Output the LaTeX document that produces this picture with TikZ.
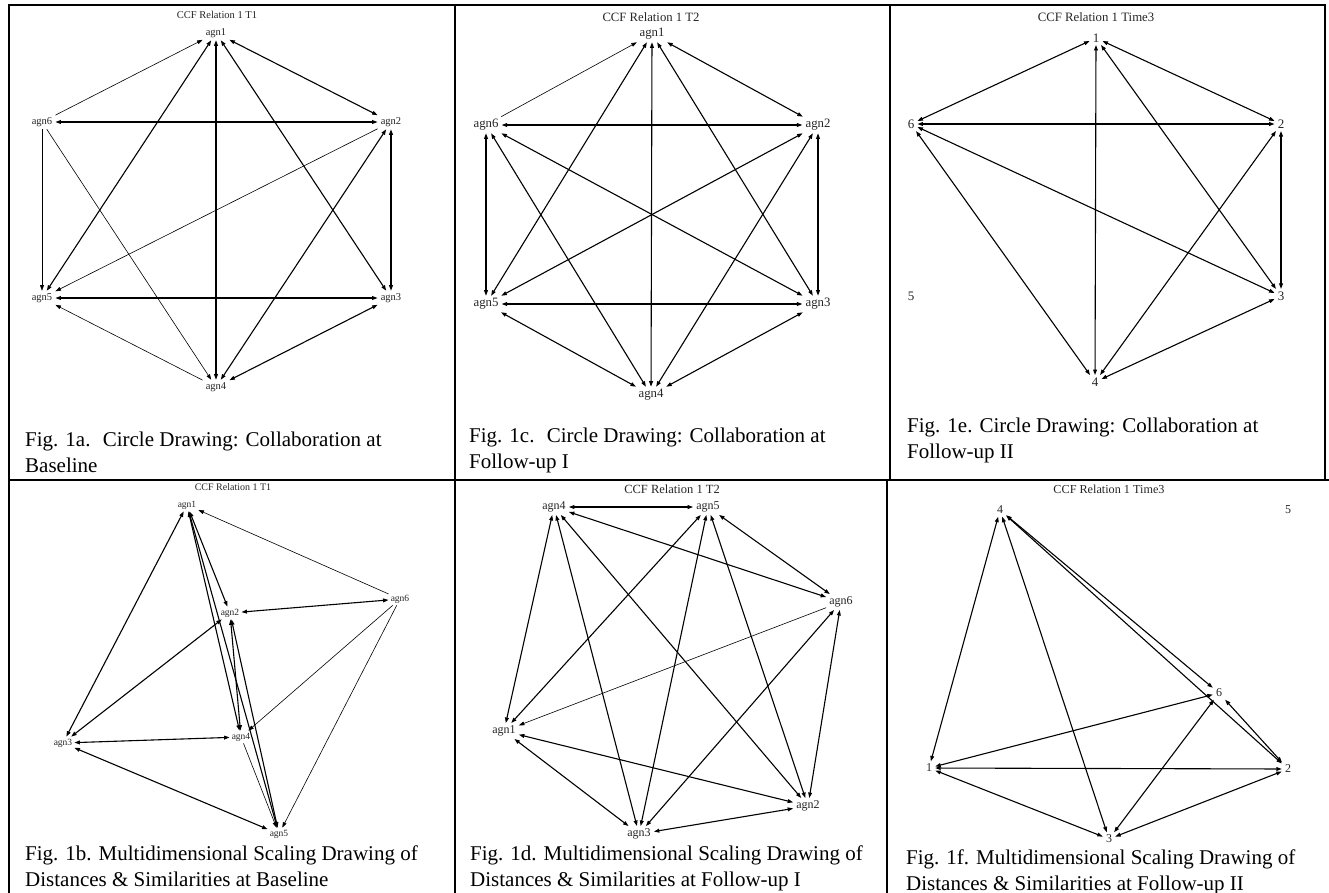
\documentclass[tikz,border=0pt]{standalone}
\usepackage{fontspec}
\setmainfont{Liberation Serif}
\usetikzlibrary{arrows.meta}
\begin{document}
\begin{tikzpicture}[x=1pt,y=-1pt,
  grid/.style={line width=2pt, line cap=rect},
  lb/.style={inner xsep=3pt, inner ysep=2.5pt, text=black!85},
  lbA/.style={lb, font=\fontsize{10.5}{12}\selectfont},
  lbB/.style={lb, inner xsep=2pt, inner ysep=2pt, font=\fontsize{9.5}{11}\selectfont},
  lbC/.style={lb, font=\fontsize{12.8}{14}\selectfont},
  lbD/.style={lb, font=\fontsize{12}{14}\selectfont},
  lbE/.style={lb, inner xsep=3pt, font=\fontsize{13}{15}\selectfont},
  lbF/.style={lb, inner xsep=3pt, font=\fontsize{12}{14}\selectfont},
  ttl/.style={inner sep=0pt, text=black!85},
  figcap/.style={anchor=base west, inner sep=0pt, align=left, font=\fontsize{21}{26}\selectfont},
  mut/.style={{Triangle[length=5.5pt,width=3.8pt]}-{Triangle[length=5.5pt,width=3.8pt]}, line width=1.1pt},
  one/.style={-{Triangle[length=5.5pt,width=3.8pt]}, line width=0.6pt}
]
\useasboundingbox (0,0) rectangle (1329,892);
\fill[white] (0,0) rectangle (1329,892);

% table rules
\draw[grid] (9,5) -- (1325,5);
\draw[grid] (9,5) -- (9,892);
\draw[grid] (1325,5) -- (1325,480);
\draw[grid] (455,5) -- (455,892);
\draw[grid] (890,5) -- (890,480);
\draw[grid] (887,480) -- (887,892);
\draw[grid] (9,480) -- (1329,480);

% ---------- Fig 1a ----------
\node[ttl, font=\fontsize{10.5}{12}\selectfont] (ta) at (217,15) {CCF Relation 1 T1};
\node[lbA] (a1) at (216,33) {agn1};
\node[lbA] (a6) at (42,122) {agn6};
\node[lbA] (a2) at (391,122) {agn2};
\node[lbA] (a5) at (42,298) {agn5};
\node[lbA] (a3) at (391,298) {agn3};
\node[lbA] (a4) at (216,387) {agn4};
\draw[one] (a6) -- (a1);
\draw[mut] (a1) -- (a2);
\draw[mut] (a6) -- (a2);
\draw[mut] (a1) -- (a5);
\draw[mut] (a1) -- (a4);
\draw[mut] (a1) -- (a3);
\draw[one] (a6) -- (a5);
\draw[one] (a6) -- (a4);
\draw[one] (a2) -- (a5);
\draw[mut] (a2) -- (a4);
\draw[mut] (a2) -- (a3);
\draw[mut] (a5) -- (a3);
\draw[one] (a4) -- (a5);
\draw[mut] (a3) -- (a4);
\node[figcap] (capa) at (25,472) {Fig. 1a.~ Circle Drawing: Collaboration at\\Baseline};

% ---------- Fig 1c ----------
\node[ttl, font=\fontsize{12.7}{14}\selectfont] (tc) at (651,17) {CCF Relation 1 T2};
\node[lbC] (c1) at (652,34) {agn1};
\node[lbC] (c6) at (486,125) {agn6};
\node[lbC] (c2) at (818,125) {agn2};
\node[lbC] (c5) at (486,304) {agn5};
\node[lbC] (c3) at (818,304) {agn3};
\node[lbC] (c4) at (651,395) {agn4};
\draw[one] (c6) -- (c1);
\draw[mut] (c1) -- (c2);
\draw[mut] (c6) -- (c2);
\draw[mut] (c1) -- (c5);
\draw[mut] (c1) -- (c4);
\draw[mut] (c1) -- (c3);
\draw[mut] (c6) -- (c5);
\draw[mut] (c6) -- (c4);
\draw[mut] (c6) -- (c3);
\draw[mut] (c2) -- (c5);
\draw[mut] (c2) -- (c4);
\draw[mut] (c2) -- (c3);
\draw[mut] (c5) -- (c3);
\draw[mut] (c5) -- (c4);
\draw[mut] (c3) -- (c4);
\node[figcap] (capc) at (469,468) {Fig. 1c.~ Circle Drawing: Collaboration at\\Follow-up I};

% ---------- Fig 1e ----------
\node[ttl, font=\fontsize{12.8}{14}\selectfont] (te) at (1096,17) {CCF Relation 1 Time3};
\node[lbE] (e1) at (1096,38) {1};
\node[lbE] (e6) at (911,124) {6};
\node[lbE] (e2) at (1281,124) {2};
\node[lbE] (e5) at (911,296) {5};
\node[lbE] (e3) at (1281,296) {3};
\node[lbE] (e4) at (1095,382) {4};
\draw[mut] (e1) -- (e6);
\draw[mut] (e1) -- (e2);
\draw[mut] (e1) -- (e4);
\draw[mut] (e1) -- (e3);
\draw[mut] (e6) -- (e2);
\draw[mut] (e6) -- (e3);
\draw[mut] (e6) -- (e4);
\draw[mut] (e2) -- (e4);
\draw[mut] (e2) -- (e3);
\draw[mut] (e3) -- (e4);
\node[figcap] (cape) at (907,458) {Fig. 1e. Circle Drawing: Collaboration at\\Follow-up II};

% ---------- Fig 1b ----------
\node[ttl, font=\fontsize{10}{12}\selectfont] (tb) at (233,487) {CCF Relation 1 T1};
\node[lbB] (b1) at (187,505) {agn1};
\node[lbB] (b6) at (400,599) {agn6};
\node[lbB] (b2) at (230,613) {agn2};
\node[lbB] (b3) at (63,743) {agn3};
\node[lbB] (b4) at (241,737) {agn4};
\node[lbB] (b5) at (279,834) {agn5};
\draw[one] (b6) -- (b1);
\draw[mut] (b1) -- (b2);
\draw[mut] (b1) -- (b3);
\draw[mut] (b1) -- (b4);
\draw[mut] (b1) -- (b5);
\draw[mut] (b2) -- (b4);
\draw[mut] (b2) -- (b5);
\draw[one] (b4) -- (b5);
\draw[one] (b6) -- (b4);
\draw[one] (b6) -- (b5);
\draw[mut] (b6) -- (b2);
\draw[mut] (b2) -- (b3);
\draw[mut] (b3) -- (b4);
\draw[mut] (b3) -- (b5);
\node[figcap] (capb) at (25,886) {Fig. 1b. Multidimensional Scaling Drawing of\\Distances \& Similarities at Baseline};

% ---------- Fig 1d ----------
\node[ttl, font=\fontsize{12.5}{14}\selectfont] (td) at (672,489) {CCF Relation 1 T2};
\node[lbD] (d4) at (554,507) {agn4};
\node[lbD] (d5) at (708,507) {agn5};
\node[lbD] (d6) at (841,602) {agn6};
\node[lbD] (d1) at (504,731) {agn1};
\node[lbD] (d2) at (808,806) {agn2};
\node[lbD] (d3) at (639,834) {agn3};
\draw[mut] (d4) -- (d5);
\draw[mut] (d4) -- (d6);
\draw[mut] (d4) -- (d1);
\draw[mut] (d4) -- (d3);
\draw[mut] (d4) -- (d2);
\draw[mut] (d5) -- (d6);
\draw[mut] (d5) -- (d1);
\draw[mut] (d5) -- (d3);
\draw[mut] (d5) -- (d2);
\draw[one] (d6) -- (d1);
\draw[mut] (d6) -- (d3);
\draw[mut] (d6) -- (d2);
\draw[mut] (d1) -- (d2);
\draw[mut] (d1) -- (d3);
\draw[mut] (d3) -- (d2);
\node[figcap] (capd) at (470,886) {Fig. 1d. Multidimensional Scaling Drawing of\\Distances \& Similarities at Follow-up I};

% ---------- Fig 1f ----------
\node[ttl, font=\fontsize{12.2}{14}\selectfont] (tf) at (1109,489) {CCF Relation 1 Time3};
\node[lbF] (f4) at (1000,510) {4};
\node[lbF] (f5) at (1288,510) {5};
\node[lbF] (f6) at (1219,693) {6};
\node[lbF] (f1) at (929,768) {1};
\node[lbF] (f2) at (1288,769) {2};
\node[lbF] (f3) at (1109,839) {3};
\draw[mut] (f4) -- (f1);
\draw[mut] (f4) -- (f3);
\draw[mut] (f4) -- (f6);
\draw[mut] (f4) -- (f2);
\draw[mut] (f6) -- (f1);
\draw[mut] (f6) -- (f3);
\draw[mut] (f6) -- (f2);
\draw[mut] (f1) -- (f2);
\draw[mut] (f1) -- (f3);
\draw[mut] (f3) -- (f2);
\node[figcap] (capf) at (906,890) {Fig. 1f. Multidimensional Scaling Drawing of\\Distances \& Similarities at Follow-up II};
\end{tikzpicture}
\end{document}
